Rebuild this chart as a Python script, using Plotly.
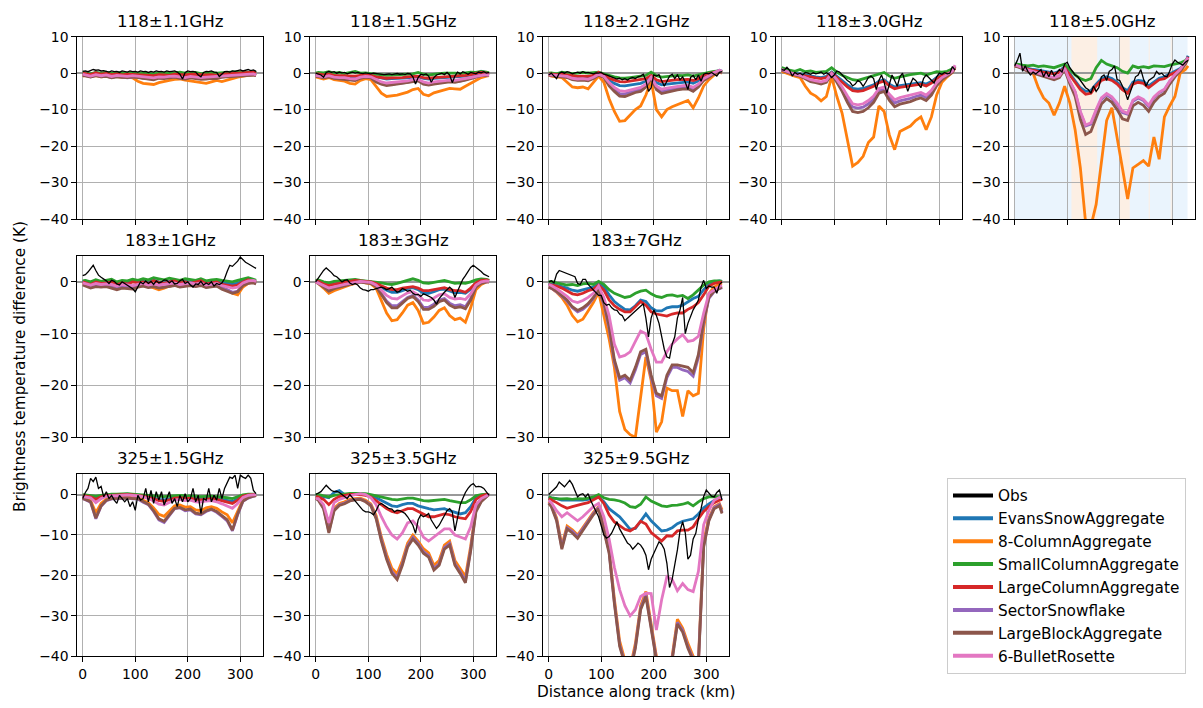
import plotly.graph_objects as go

# ---------------- data ----------------
x_model = [0, 5, 15, 25, 35, 45, 55, 65, 75, 85, 95, 105, 115, 125, 135, 145, 155, 165, 175, 185,
           195, 205, 215, 225, 235, 245, 255, 265, 275, 285, 295, 305, 315, 325, 330]
x_obs = list(range(0, 335, 5))

series_names = ["Obs", "EvansSnowAggregate", "8-ColumnAggregate", "SmallColumnAggregate",
                "LargeColumnAggregate", "SectorSnowflake", "LargeBlockAggregate", "6-BulletRosette"]
series_colors = ["#000000", "#1f77b4", "#ff7f0e", "#2ca02c", "#d62728", "#9467bd", "#8c564b", "#e377c2"]

panel_titles = ["118±1.1GHz", "118±1.5GHz", "118±2.1GHz", "118±3.0GHz", "118±5.0GHz",
                "183±1GHz", "183±3GHz", "183±7GHz", "325±1.5GHz", "325±3.5GHz", "325±9.5GHz"]

# ---- 118±1.1GHz ----
obs_118_11 = [0.5,0.6,0.4,0.7,1.0,0.8,0.9,0.6,0.7,0.5, 0.3,0.6,0.4,0.5,0.2,0.6,0.5,0.3,0.6,0.4,
              0.5,0.3,0.6,0.4,0.5,0.2,0.5,0.3,0.6,0.4, 0.5,0.3,0.6,0.4,0.5,0.6,0.3,-0.3,-1.6,0.2,
              0.6,0.4,0.5,0.3,-0.5,-1.0,0.2,0.5,0.4,0.6, 0.3,0.2,-0.9,-0.3,0.4,0.5,0.3,0.6,0.5,0.7,
              0.9,0.6,0.8,1.0,0.7,0.9,0.5]
evans_118_11 = [0.2,0.0,-0.3,0.1,-0.2,0.0,-0.3,-0.1,-0.4,-0.2, -0.3,-0.1,-0.5,-0.4,-0.6,-0.3,-0.5,-0.4,-0.2,-0.3,
                -0.5,-0.4,-0.2,-0.6,-0.4,-0.3,-0.5,-0.2,-0.3,-0.1, 0.2,0.0,0.3,0.4,0.1]
col8_118_11 = [-0.8,-0.6,-0.9,-0.7,-1.0,-0.9,-1.1,-0.9,-1.2,-1.0, -1.3,-2.2,-2.8,-3.0,-3.1,-2.6,-2.4,-2.0,-1.7,-1.6,
               -1.9,-2.1,-2.3,-2.6,-2.8,-2.4,-2.0,-2.3,-1.8,-1.5, -1.1,-0.8,-0.6,-0.5,-0.7]
small_118_11 = [0.3,0.1,-0.2,0.2,0.0,0.3,-0.1,0.2,0.1,0.0, 0.2,-0.1,0.1,0.0,-0.2,0.1,0.0,0.2,0.1,0.3,
                0.0,0.1,0.2,-0.1,0.1,0.2,0.0,0.1,0.3,0.2, 0.4,0.1,0.3,0.5,0.2]
large_118_11 = [0.0,-0.2,-0.4,0.1,-0.3,-0.1,-0.4,-0.2,-0.5,-0.3, -0.4,-0.3,-0.6,-0.5,-0.7,-0.4,-0.5,-0.6,-0.3,-0.4,
                -0.5,-0.3,-0.4,-0.6,-0.5,-0.4,-0.6,-0.3,-0.2,-0.3, 0.0,-0.1,0.2,0.3,0.0]
sector_118_11 = [-0.5,-0.7,-1.0,-0.6,-0.9,-0.8,-1.2,-0.9,-1.0,-1.3, -1.1,-1.0,-1.4,-1.5,-1.6,-1.2,-1.3,-1.1,-1.0,-1.2,
                 -1.4,-1.1,-1.3,-1.5,-1.4,-1.2,-1.3,-1.0,-0.9,-0.8, -0.6,-0.7,-0.5,-0.4,-0.6]
block_118_11 = [-0.6,-0.8,-1.1,-0.7,-1.0,-0.9,-1.3,-1.0,-1.1,-1.2, -1.0,-1.2,-1.6,-1.7,-1.8,-1.4,-1.5,-1.3,-1.1,-1.4,
                -1.6,-1.3,-1.5,-1.7,-1.6,-1.4,-1.5,-1.1,-1.0,-0.9, -0.7,-0.8,-0.6,-0.5,-0.7]
bullet_118_11 = [-0.3,-0.5,-0.8,-0.4,-0.7,-0.5,-0.9,-0.6,-0.8,-0.9, -0.7,-0.8,-1.1,-1.2,-1.3,-1.0,-1.1,-0.9,-0.8,-1.0,
                 -1.2,-0.9,-1.1,-1.2,-1.1,-1.0,-1.0,-0.8,-0.7,-0.6, -0.4,-0.5,-0.3,-0.2,-0.5]

# ---- 118±1.5GHz ----
obs_118_15 = [0.0,-0.3,-0.5,-1.1,0.2,0.5,0.2,0.4,0.0,0.3, 0.1,0.2,-0.2,0.1,0.3,0.0,0.2,0.0,-0.1,0.1,
              0.0,-0.2,0.0,-0.1,-0.3,-0.2,-0.4,-0.3,-0.2,-0.4, -0.3,-0.1,-0.3,-0.2,-0.4,-0.1,-0.2,-1.0,-3.0,-1.2,
              -0.3,-0.5,-0.2,-0.8,-2.5,-1.2,-0.5,-0.3,0.0,-0.4, 0.2,-0.5,-2.6,-0.8,0.3,-0.2,0.4,0.1,-0.3,0.2,
              0.0,-0.2,0.3,0.1,0.4,0.0,0.2]
evans_118_15 = [-0.5,-0.3,-0.6,-0.4,-0.7,-0.8,-0.7,-0.9,-1.0,-0.8, -0.6,-0.7,-1.0,-1.4,-1.6,-1.5,-1.5,-1.4,-1.3,-1.1,
                -1.0,-1.4,-1.6,-1.4,-1.3,-1.2,-1.1,-1.0,-1.1,-0.8, -0.5,-0.4,0.5,0.0,-0.2]
col8_118_15 = [-1.0,-1.2,-1.6,-1.2,-1.8,-2.0,-2.2,-2.8,-3.0,-2.0, -1.5,-1.8,-3.5,-5.5,-6.4,-6.3,-6.0,-5.6,-5.2,-4.5,
               -4.2,-5.8,-6.2,-5.4,-5.0,-4.6,-4.2,-4.3,-4.4,-3.6, -2.8,-2.0,-1.2,-0.8,-0.7]
small_118_15 = [0.0,0.2,0.1,0.4,0.0,0.2,-0.1,0.1,0.5,0.0, 0.1,-0.1,-0.3,-0.5,-0.6,-0.5,-0.4,-0.5,-0.3,-0.2,
                0.2,-0.3,-0.5,-0.2,-0.1,0.0,0.1,0.0,-0.1,0.1, 0.3,0.2,0.5,0.3,0.1]
large_118_15 = [-0.3,-0.2,-0.5,-0.3,-0.6,-0.7,-0.6,-0.8,-0.8,-0.6, -0.5,-0.6,-1.0,-1.2,-1.4,-1.3,-1.3,-1.2,-1.0,-0.9,
                -0.8,-1.2,-1.4,-1.2,-1.1,-1.0,-0.9,-0.8,-0.9,-0.6, -0.4,-0.2,0.2,0.0,-0.2]
sector_118_15 = [-0.8,-0.8,-1.2,-0.9,-1.3,-1.4,-1.5,-1.8,-1.9,-1.3, -1.0,-1.2,-2.2,-2.9,-3.2,-3.0,-2.9,-2.7,-2.5,-2.1,
                 -2.0,-2.8,-3.1,-2.8,-2.6,-2.4,-2.2,-2.3,-2.2,-1.8, -1.4,-1.0,-0.6,-0.5,-0.6]
block_118_15 = [-0.9,-0.9,-1.3,-1.0,-1.4,-1.5,-1.6,-1.9,-2.0,-1.4, -1.1,-1.3,-2.4,-3.0,-3.4,-3.2,-3.0,-2.9,-2.7,-2.3,
                -2.1,-3.0,-3.3,-3.0,-2.8,-2.6,-2.4,-2.5,-2.3,-1.9, -1.5,-1.1,-0.7,-0.6,-0.7]
bullet_118_15 = [-0.6,-0.7,-1.0,-0.7,-1.1,-1.2,-1.2,-1.5,-1.6,-1.1, -0.9,-1.0,-1.8,-2.4,-2.7,-2.6,-2.5,-2.3,-2.1,-1.8,
                 -1.7,-2.4,-2.7,-2.4,-2.2,-2.0,-1.9,-2.0,-1.8,-1.5, -1.2,-0.9,-0.6,-0.4,-0.6]

# ---- 118±2.1GHz ----
obs_118_21 = [-0.5,0.0,-0.8,-1.5,0.0,0.3,0.0,0.4,0.2,-0.2, 0.1,0.3,0.0,0.4,0.1,0.2,0.0,-0.2,0.1,0.0,
              0.2,-0.3,-0.5,-0.8,-1.0,-1.2,-1.6,-1.4,-1.8,-1.5, -1.9,-1.4,-1.2,-1.5,-1.0,-0.8,-0.3,-2.0,-5.0,-4.0,
              -0.5,-0.8,-0.4,-2.0,-3.6,-2.2,-0.8,-0.3,-1.5,-0.5, -1.8,-1.0,-2.5,-4.5,-1.2,-0.6,-1.8,-0.5,-2.2,-0.3,
              0.0,-0.2,0.2,-0.3,-0.8,0.2,0.4]
evans_118_21 = [-0.3,-0.4,-0.5,-0.4,-0.7,-1.0,-1.2,-1.1,-1.2,-0.8, -0.2,-0.7,-2.0,-2.8,-3.4,-3.5,-3.2,-3.0,-2.8,-2.2,
                -0.8,-2.6,-3.2,-3.0,-2.8,-2.6,-2.5,-2.4,-2.8,-2.1, -1.0,-0.4,0.3,0.8,0.5]
col8_118_21 = [-0.5,-0.8,-1.0,-1.2,-2.5,-3.8,-4.0,-3.8,-4.3,-2.5, -0.8,-2.5,-7.0,-10.5,-13.2,-13.0,-11.5,-10.0,-9.0,-6.0,
               -2.0,-10.0,-12.0,-10.0,-9.2,-8.6,-8.0,-7.5,-9.5,-6.8, -3.5,-1.8,-0.5,0.3,0.0]
small_118_21 = [0.0,0.1,-0.2,0.3,0.1,-0.1,0.0,0.2,0.0,0.1, 0.3,-0.2,-0.7,-1.0,-1.3,-1.4,-1.2,-1.0,-0.9,-0.6,
                0.3,-0.7,-1.1,-0.9,-0.8,-0.6,-0.7,-0.5,-0.8,-0.4, 0.0,0.2,0.5,0.6,0.3]
large_118_21 = [-0.2,-0.3,-0.4,-0.3,-0.5,-0.8,-0.9,-0.8,-0.9,-0.6, 0.2,-0.5,-1.4,-1.9,-2.3,-2.4,-2.2,-2.0,-1.9,-1.5,
                -0.6,-1.8,-2.3,-2.1,-2.0,-1.8,-1.8,-1.7,-2.0,-1.5, -0.6,-0.2,0.3,0.6,0.4]
sector_118_21 = [-0.5,-0.6,-0.7,-0.8,-1.0,-1.6,-1.8,-1.7,-1.9,-1.3, -0.4,-1.0,-3.0,-4.5,-5.6,-5.7,-5.2,-4.8,-4.5,-3.4,
                 -1.3,-4.0,-5.0,-4.7,-4.4,-4.1,-3.9,-3.8,-4.5,-3.4, -1.8,-0.9,-0.1,0.4,0.2]
block_118_21 = [-0.5,-0.7,-0.8,-0.9,-1.2,-1.8,-2.0,-1.9,-2.1,-1.5, -0.5,-1.2,-3.5,-5.0,-6.3,-6.4,-5.8,-5.3,-5.0,-3.8,
                -1.5,-4.5,-5.6,-5.2,-4.9,-4.6,-4.4,-4.3,-5.0,-3.8, -2.0,-1.0,-0.2,0.3,0.2]
bullet_118_21 = [-0.4,-0.5,-0.6,-0.7,-0.9,-1.4,-1.6,-1.5,-1.7,-1.1, -0.3,-0.9,-2.6,-3.9,-4.8,-5.0,-4.6,-4.2,-3.9,-3.0,
                 -1.1,-3.5,-4.4,-4.1,-3.8,-3.5,-3.4,-3.3,-3.9,-3.0, -1.5,-0.7,0.2,0.8,0.5]

# ---- 118±3.0GHz ----
obs_118_30 = [1.0,0.8,1.6,0.8,-0.8,0.2,-0.3,0.0,-0.5,0.2, 0.0,-0.3,0.1,-0.2,0.0,0.3,-0.3,0.1,-0.3,-1.2,
              -0.5,0.6,0.3,-0.5,-1.0,-2.0,-2.5,-3.5,-3.0,-2.0, -2.5,-3.6,-2.5,-1.2,-0.8,-1.5,-4.5,-2.0,-0.5,-2.5,
              -5.5,-3.0,-0.5,-2.0,-3.6,-1.0,0.0,-2.5,-5.0,-3.0, -1.4,-2.0,-3.0,-4.0,-1.5,-0.5,-1.2,-2.0,-2.7,-1.0,
              0.0,-0.3,0.2,-0.2,0.0,1.8,0.8]
evans_118_30 = [1.2,0.8,0.3,0.0,-0.2,-0.6,-0.9,-1.0,-1.2,-0.9, 0.3,-0.9,-2.0,-3.2,-4.2,-4.4,-4.2,-3.8,-3.2,-2.2,
                -1.8,-3.0,-3.8,-3.4,-3.2,-3.0,-2.8,-2.6,-3.0,-2.3, -1.2,-0.4,0.0,0.6,1.5]
col8_118_30 = [0.5,0.2,-0.3,-0.8,-1.2,-3.6,-5.5,-6.3,-7.6,-6.4, -1.0,-6.4,-11.0,-18.0,-25.5,-24.5,-22.8,-19.0,-17.5,-9.0,
               -10.5,-17.0,-21.0,-16.0,-15.3,-14.5,-13.0,-12.0,-15.5,-12.0, -6.0,-2.5,-1.0,0.2,1.5]
small_118_30 = [1.5,1.2,0.8,0.5,1.0,0.4,0.6,0.2,0.3,0.5, 1.5,0.3,-0.6,-1.2,-1.8,-2.0,-1.6,-1.2,-0.8,-0.3,
                0.2,-0.8,-1.4,-1.0,-0.6,-0.4,-0.2,0.0,-0.5,0.0, 0.4,0.3,0.5,1.2,1.5]
large_118_30 = [1.0,0.6,0.1,-0.2,-0.4,-0.8,-1.2,-1.3,-1.5,-1.2, 0.1,-1.2,-2.5,-3.8,-4.8,-5.0,-4.8,-4.3,-3.6,-2.6,
                -2.2,-3.5,-4.3,-3.9,-3.7,-3.5,-3.2,-3.0,-3.5,-2.7, -1.5,-0.6,-0.2,0.5,1.4]
sector_118_30 = [0.9,0.6,0.1,-0.4,-0.7,-1.4,-2.0,-2.3,-2.7,-2.2, -0.2,-2.1,-4.3,-7.0,-9.3,-9.6,-9.3,-8.4,-7.1,-4.8,
                 -4.4,-6.6,-8.2,-7.6,-7.3,-6.9,-6.4,-6.0,-6.7,-5.3, -3.0,-1.5,-0.6,0.4,1.9]
block_118_30 = [0.8,0.5,0.0,-0.5,-0.8,-1.6,-2.3,-2.6,-3.0,-2.5, -0.3,-2.5,-5.0,-8.0,-10.5,-10.8,-10.5,-9.5,-8.0,-5.5,
                -5.0,-7.5,-9.2,-8.5,-8.2,-7.8,-7.2,-6.8,-7.5,-6.0, -3.5,-1.8,-0.8,0.2,1.8]
bullet_118_30 = [1.0,0.7,0.2,-0.3,-0.6,-1.2,-1.8,-2.1,-2.4,-2.0, -0.1,-1.8,-3.8,-6.2,-8.4,-8.7,-8.4,-7.5,-6.3,-4.2,
                 -3.8,-5.8,-7.3,-6.7,-6.4,-6.0,-5.6,-5.3,-6.0,-4.7, -2.6,-1.2,-0.4,0.6,2.2]

# ---- 118±5.0GHz ----
obs_118_50 = [2.0,3.5,5.5,0.5,2.0,0.5,-0.5,0.3,-0.2,0.5, 1.0,-1.0,0.5,-1.0,0.8,-0.8,0.0,1.0,0.3,2.5,
              3.0,1.5,0.5,-0.5,-1.0,-2.0,-3.0,-4.0,-4.5,-5.5, -3.5,-5.0,-4.0,-1.0,-0.5,-2.0,0.5,1.0,2.0,-1.8,
              -2.0,-3.6,-5.0,-7.3,-5.0,-2.7,-1.0,-0.5,1.0,-1.5, -3.6,-2.0,-1.4,-1.0,0.5,-0.3,0.0,-0.8,-1.0,0.5,
              2.5,3.6,3.0,2.7,2.2,3.0,3.5]
evans_118_50 = [2.2,2.0,1.8,1.3,1.0,0.8,0.5,0.3,0.0,0.5, 1.8,-0.2,-2.0,-4.0,-5.0,-4.8,-3.0,-1.5,-1.0,-1.5,
                -2.5,-4.0,-4.8,-2.5,-2.0,-2.2,-3.5,-2.5,-1.4,-1.0, -0.2,0.5,1.3,2.8,4.8]
col8_118_50 = [2.0,2.0,1.5,1.0,0.0,-4.0,-6.8,-8.2,-11.5,-8.2, -3.6,-8.2,-15.5,-26.0,-41.0,-42.0,-36.0,-25.0,-13.0,-9.5,
               -17.3,-26.0,-34.5,-26.0,-25.0,-24.0,-25.5,-17.5,-23.6,-12.0, -9.0,-6.4,0.0,1.0,2.0]
small_118_50 = [2.5,2.5,2.2,2.0,2.2,1.8,2.0,1.8,1.5,2.0, 2.5,1.0,-0.5,-1.5,-2.0,-1.5,1.5,3.5,2.5,2.0,
                1.5,0.5,0.0,2.0,1.5,1.8,1.5,2.0,2.0,1.8, 2.2,2.5,2.8,3.5,4.0]
large_118_50 = [2.0,1.8,1.5,1.0,0.8,0.5,0.3,0.0,-0.2,0.2, 1.5,-0.5,-2.5,-4.5,-5.8,-5.5,-3.5,-2.0,-1.5,-2.0,
                -3.0,-4.5,-5.5,-3.0,-2.5,-2.8,-4.0,-3.0,-1.8,-1.5, -0.5,0.2,1.0,2.5,4.5]
sector_118_50 = [2.2,2.0,1.4,0.8,0.3,-0.2,-0.6,-1.0,-1.3,-0.8, 1.3,-2.4,-5.2,-10.8,-14.5,-14.0,-10.4,-7.2,-5.9,-6.9,
                 -8.6,-10.8,-11.3,-7.7,-6.8,-7.5,-9.1,-6.8,-5.4,-4.6, -2.3,-0.5,0.9,2.8,4.2]
block_118_50 = [2.0,1.8,1.2,0.5,0.0,-0.5,-1.0,-1.5,-1.8,-1.2, 1.0,-3.0,-6.4,-12.7,-16.8,-16.0,-12.0,-8.5,-7.0,-8.0,
                -10.0,-12.5,-13.0,-9.0,-8.0,-8.8,-10.5,-8.0,-6.4,-5.5, -3.0,-1.0,0.5,2.5,4.0]
bullet_118_50 = [2.3,2.1,1.5,0.9,0.4,-0.1,-0.5,-0.9,-1.2,-0.7, 1.4,-2.2,-5.0,-10.5,-14.2,-13.6,-10.0,-6.8,-5.6,-6.5,
                 -8.2,-10.4,-11.0,-7.4,-6.5,-7.2,-8.8,-6.5,-5.2,-4.4, -2.2,-0.4,1.0,3.0,4.3]
shade_blue_118_50 = [(-1, 329)]
shade_orange_118_50 = [(108, 157), (200, 219), (255, 257), (297, 299)]

# ---- 183±1GHz ----
obs_183_1 = [1.2,1.4,1.9,2.5,3.2,2.2,1.3,0.9,0.6,0.2, -0.3,0.3,0.1,-0.4,-0.6,0.0,-0.3,-0.6,-1.0,-1.3,
             -1.9,-1.0,0.0,-0.4,0.2,-0.3,0.1,-0.5,0.2,-0.2, 0.0,0.4,0.3,-0.2,0.2,-0.4,-0.3,0.2,0.5,-0.3,
             0.0,-0.6,-1.0,-0.4,-0.5,0.1,-0.6,-0.2,-0.5,0.0, -0.8,-0.3,-0.5,-0.2,0.6,2.0,3.2,3.0,3.5,4.0,
             4.8,4.2,3.8,3.5,3.2,2.8,2.6]
evans_183_1 = [0.0,0.2,-0.3,0.3,-0.2,0.0,0.2,-0.3,0.1,-0.2, 0.3,0.0,0.2,-0.1,0.3,0.0,-0.2,0.1,0.3,0.0,
               0.2,-0.1,0.0,0.3,-0.2,0.1,0.2,-0.3,-0.2,-0.5, -0.3,0.2,0.5,0.3,0.1]
col8_183_1 = [-0.3,-0.5,-0.8,-0.5,-0.8,-0.5,-0.7,-1.0,-0.6,-0.8, -1.0,-0.7,-0.5,-0.8,-1.2,-1.5,-1.2,-0.8,-0.6,-0.9,
              -0.5,-0.3,-0.6,-0.4,-0.8,-0.6,-0.5,-1.0,-1.6,-2.2, -2.5,-1.0,-0.3,0.0,-0.2]
small_183_1 = [0.2,0.3,0.0,0.4,0.1,0.3,0.5,0.0,0.3,0.2, 0.5,0.3,0.6,0.4,0.8,0.6,0.4,0.7,0.5,0.3,
               0.6,0.4,0.3,0.6,0.2,0.4,0.5,0.3,0.2,0.0, 0.3,0.6,0.8,0.5,0.3]
large_183_1 = [0.0,-0.2,-0.5,0.0,-0.3,-0.2,0.0,-0.5,-0.2,-0.4, 0.0,-0.2,0.0,-0.3,0.2,-0.1,-0.3,0.0,0.2,-0.2,
               0.0,-0.3,-0.1,0.2,-0.4,-0.2,0.0,-0.5,-0.6,-0.8, -0.6,0.0,0.4,0.2,0.0]
sector_183_1 = [-0.5,-0.6,-1.0,-0.7,-0.9,-0.8,-1.0,-1.3,-0.9,-1.0, -1.2,-0.9,-0.7,-1.0,-0.8,-1.1,-1.0,-0.8,-0.6,-0.9,
                -0.7,-0.6,-0.8,-0.6,-1.0,-0.8,-0.7,-1.2,-1.5,-2.0, -1.8,-0.6,-0.2,-0.1,-0.3]
block_183_1 = [-0.6,-0.8,-1.2,-0.9,-1.0,-0.9,-1.2,-1.5,-1.2,-1.3, -1.4,-1.0,-0.8,-1.1,-0.9,-1.2,-1.0,-0.9,-0.7,-1.0,
               -0.8,-0.7,-0.9,-0.7,-1.1,-0.9,-0.8,-1.4,-1.8,-2.2, -1.9,-0.7,-0.3,-0.2,-0.4]
bullet_183_1 = [-0.2,-0.3,-0.6,-0.3,-0.5,-0.4,-0.5,-0.8,-0.5,-0.6, -0.7,-0.5,-0.3,-0.6,-0.4,-0.6,-0.5,-0.4,-0.2,-0.5,
                -0.3,-0.2,-0.4,-0.2,-0.6,-0.4,-0.3,-0.7,-0.9,-1.2, -1.0,-0.2,0.2,0.3,0.1]

# ---- 183±3GHz ----
obs_183_3 = [0.0,0.8,1.5,2.2,2.7,2.3,1.8,1.2,1.0,0.5, 0.0,0.3,0.4,-0.2,-0.5,-0.3,-0.6,-1.2,-1.5,-1.6,
             -1.8,-1.5,-1.5,-1.3,-1.2,-1.0,-1.2,-1.5,-1.3,-1.0, -1.5,-2.0,-1.8,-1.3,-1.5,-1.8,-1.6,-2.2,-2.5,-2.4,
             -2.8,-2.3,-2.5,-2.8,-3.0,-3.5,-4.3,-3.2,-2.5,-2.0, -1.5,-1.0,-1.5,-3.0,-1.8,-0.5,0.5,1.2,2.0,2.8,
             3.2,2.8,2.5,2.0,1.5,1.2,1.0]
evans_183_3 = [0.3,0.2,-0.3,-0.6,-0.4,-0.3,-0.2,0.0,0.2,0.2, 0.0,0.0,-0.4,-1.0,-1.6,-2.0,-2.0,-1.7,-1.3,-1.1,
               -1.5,-2.2,-2.2,-1.9,-1.5,-1.4,-1.8,-2.1,-2.0,-2.2, -1.4,-0.3,0.2,0.3,0.2]
col8_183_3 = [0.0,-0.3,-1.2,-2.2,-1.7,-1.3,-1.0,-0.6,-0.3,0.0, -0.2,-0.4,-1.2,-3.5,-6.0,-7.5,-7.3,-6.0,-4.5,-4.0,
              -5.5,-8.0,-7.8,-6.8,-5.5,-5.0,-6.5,-7.3,-7.0,-7.8, -5.0,-1.5,-0.5,0.0,0.0]
small_183_3 = [0.3,0.4,0.0,-0.2,0.1,0.2,0.3,0.4,0.5,0.3, 0.2,0.1,0.0,-0.2,-0.4,-0.5,-0.3,0.0,0.4,0.6,
               0.3,-0.2,-0.3,-0.1,0.2,0.3,0.0,-0.3,-0.2,-0.3, 0.0,0.4,0.6,0.5,0.3]
large_183_3 = [0.2,0.1,-0.4,-0.7,-0.5,-0.3,-0.2,0.0,0.3,0.2, 0.1,0.0,-0.3,-0.8,-1.2,-1.5,-1.5,-1.2,-1.0,-0.9,
               -1.2,-1.7,-1.7,-1.5,-1.2,-1.1,-1.5,-1.7,-1.7,-2.0, -1.2,-0.2,0.3,0.4,0.2]
sector_183_3 = [0.0,-0.2,-0.9,-1.6,-1.2,-0.9,-0.7,-0.4,-0.2,0.0, -0.1,-0.2,-0.8,-2.2,-3.7,-4.6,-4.6,-3.8,-3.0,-2.6,
                -3.5,-4.9,-4.9,-4.3,-3.5,-3.2,-4.1,-4.6,-4.4,-4.8, -3.2,-0.9,-0.2,0.0,0.0]
block_183_3 = [0.0,-0.3,-1.0,-1.8,-1.3,-1.0,-0.8,-0.5,-0.2,0.0, -0.2,-0.3,-0.9,-2.4,-4.0,-5.0,-5.0,-4.1,-3.2,-2.8,
               -3.8,-5.3,-5.3,-4.7,-3.8,-3.5,-4.5,-5.0,-4.8,-5.2, -3.5,-1.0,-0.3,0.0,0.0]
bullet_183_3 = [0.0,-0.2,-0.7,-1.2,-0.9,-0.7,-0.5,-0.3,-0.1,0.1, 0.0,-0.1,-0.6,-1.6,-2.6,-3.2,-3.3,-2.7,-2.1,-1.9,
                -2.5,-3.5,-3.6,-3.1,-2.5,-2.3,-3.0,-3.3,-3.2,-3.4, -2.3,-0.6,0.0,0.2,0.1]

# ---- 183±7GHz ----
obs_183_7 = [0.0,0.2,-0.2,1.5,2.2,2.0,1.8,1.6,1.4,1.2, 1.0,-0.3,-0.5,0.5,0.5,-0.5,-1.0,-1.5,-2.0,-2.6,
             -2.6,-4.0,-4.5,-4.3,-5.0,-5.4,-5.5,-6.2,-6.5,-7.5, -7.0,-6.5,-6.0,-5.5,-5.0,-4.5,-4.2,-7.0,-10.6,-7.0,
             -5.4,-6.5,-8.0,-10.5,-13.0,-14.5,-14.7,-12.0,-10.6,-7.0, -5.4,-3.0,-10.0,-8.0,-6.7,-5.4,-4.5,-3.5,-1.0,0.3,
             -1.3,-0.8,-1.0,-1.0,-2.2,-0.5,0.0]
evans_183_7 = [-0.3,-0.4,-0.6,-0.9,-1.2,-1.6,-1.8,-1.5,-1.2,-1.0, -0.3,-1.0,-2.5,-3.8,-4.6,-5.3,-5.4,-4.6,-3.5,-3.8,
               -5.0,-5.6,-5.6,-5.0,-4.8,-4.8,-4.5,-3.8,-3.2,-2.8, -1.5,-0.5,0.0,0.2,0.1]
col8_183_7 = [-1.0,-1.2,-2.0,-3.0,-4.5,-6.5,-7.7,-7.2,-5.6,-4.0, -2.0,-6.5,-11.0,-16.5,-25.0,-28.5,-29.5,-30.0,-22.0,-14.5,
              -19.0,-29.0,-27.0,-20.5,-21.0,-21.0,-26.0,-21.0,-22.0,-21.5, -9.0,-2.2,-1.0,-0.4,-0.3]
small_183_7 = [0.0,0.1,-0.2,-0.4,-0.6,-0.5,-0.7,-0.4,-0.3,-0.5, 0.1,-0.5,-1.5,-2.2,-2.6,-3.0,-2.8,-2.2,-1.8,-1.6,
               -2.3,-2.8,-3.0,-2.6,-2.5,-2.8,-2.6,-3.2,-2.5,-1.5, -0.6,0.0,0.2,0.2,0.1]
large_183_7 = [-0.5,-0.6,-0.8,-1.2,-1.8,-2.3,-2.5,-2.2,-1.7,-1.4, -0.6,-1.6,-3.5,-4.6,-5.3,-5.8,-5.8,-4.8,-3.8,-4.5,
               -5.8,-6.2,-6.4,-6.6,-6.2,-6.0,-6.0,-5.3,-4.8,-4.0, -2.5,-0.8,-0.3,0.0,0.0]
sector_183_7 = [-1.0,-1.2,-1.9,-2.8,-3.7,-5.0,-5.8,-5.3,-4.4,-3.2, -1.6,-4.3,-9.0,-15.5,-19.0,-18.5,-19.5,-17.0,-14.0,-13.5,
                -18.5,-22.0,-22.5,-18.5,-16.5,-16.5,-17.0,-17.3,-18.2,-14.6, -7.8,-3.2,-1.9,-1.3,-1.1]
block_183_7 = [-1.0,-1.2,-1.8,-2.6,-3.5,-4.8,-5.5,-5.0,-4.2,-3.0, -1.5,-4.0,-8.5,-15.0,-18.5,-18.0,-19.0,-16.5,-13.5,-13.0,
               -18.0,-21.5,-22.0,-18.0,-16.0,-16.0,-16.3,-16.5,-17.5,-14.0, -7.4,-3.0,-1.8,-1.2,-1.0]
bullet_183_7 = [-0.5,-0.7,-1.3,-2.0,-2.8,-3.7,-4.0,-3.6,-3.0,-2.2, -0.8,-3.0,-6.5,-12.0,-14.5,-14.2,-13.5,-11.5,-9.5,-10.0,
                -13.0,-15.5,-15.5,-13.5,-12.0,-11.0,-10.2,-11.5,-11.3,-10.5, -6.0,-2.2,-1.5,-0.9,-0.7]

# ---- 325±1.5GHz ----
obs_325_15 = [-1.0,0.5,1.5,4.0,3.2,4.3,1.5,2.0,-0.6,0.7, -1.0,-0.2,-1.4,-2.2,-0.2,-1.0,-1.8,-1.0,-3.0,-1.8,
              -3.9,-0.2,-1.4,-1.0,1.5,-1.8,1.0,-2.2,0.7,-1.4, 0.7,-2.6,-1.0,0.7,-2.2,-1.0,-3.0,-0.2,-1.8,0.2,
              -1.8,-1.0,1.5,-1.8,-0.2,-4.7,-1.0,-1.4,1.5,-1.8, -0.2,-1.4,1.5,-1.0,1.5,3.1,4.3,4.0,4.8,1.5,
              4.8,4.3,4.0,4.8,4.0,1.0,0.2]
evans_325_15 = [-0.2,-0.3,-0.5,-1.0,-0.5,-0.2,-0.1,0.0,0.0,0.1, 0.0,-0.1,-0.3,-0.5,-0.8,-1.2,-1.3,-1.0,-0.7,-0.6,
                -0.8,-0.7,-1.0,-1.1,-0.9,-0.8,-1.0,-1.2,-1.4,-1.7, -1.1,-0.3,0.0,0.1,0.0]
col8_325_15 = [-0.8,-1.0,-1.5,-4.5,-2.2,-1.1,-0.8,-0.8,-0.7,-0.6, -0.8,-0.8,-1.4,-2.0,-3.3,-4.9,-5.4,-4.1,-2.8,-2.6,
               -3.1,-3.0,-3.8,-4.0,-3.3,-3.0,-3.4,-4.3,-5.0,-7.0, -4.0,-1.3,-0.6,-0.3,-0.2]
small_325_15 = [0.0,-0.1,-0.2,-0.4,-0.2,0.0,0.1,0.1,0.2,0.2, 0.1,0.0,-0.1,-0.2,-0.3,-0.4,-0.5,-0.4,-0.3,-0.2,
                -0.3,-0.3,-0.4,-0.5,-0.4,-0.4,-0.5,-0.6,-0.8,-1.0, -0.6,-0.1,0.1,0.2,0.1]
large_325_15 = [-0.3,-0.4,-0.6,-1.2,-0.6,-0.3,-0.2,-0.2,-0.1,0.0, -0.1,-0.2,-0.4,-0.7,-1.0,-1.5,-1.7,-1.3,-0.9,-0.8,
                -1.0,-0.9,-1.2,-1.3,-1.1,-1.0,-1.2,-1.5,-1.8,-2.2, -1.4,-0.4,-0.1,0.0,0.0]
sector_325_15 = [-1.0,-1.3,-1.9,-6.0,-2.9,-1.5,-1.1,-1.1,-1.0,-0.9, -1.1,-1.1,-1.9,-2.5,-4.2,-6.3,-6.9,-5.2,-3.5,-3.3,
                 -4.0,-3.8,-4.8,-5.0,-4.2,-3.7,-4.4,-5.4,-6.5,-9.0, -5.0,-1.7,-0.9,-0.4,-0.3]
block_325_15 = [-1.0,-1.2,-1.8,-5.8,-2.8,-1.4,-1.0,-1.0,-0.9,-0.8, -1.0,-1.0,-1.8,-2.4,-4.0,-6.0,-6.6,-5.0,-3.4,-3.2,
                -3.8,-3.6,-4.6,-4.8,-4.0,-3.6,-4.2,-5.2,-6.2,-8.8, -4.8,-1.6,-0.8,-0.4,-0.3]
bullet_325_15 = [-0.5,-0.6,-0.8,-2.0,-1.0,-0.5,-0.3,-0.3,-0.2,-0.1, -0.2,-0.3,-0.6,-1.0,-1.6,-2.4,-2.6,-2.0,-1.3,-1.2,
                 -1.5,-1.4,-1.8,-1.9,-1.6,-1.5,-1.8,-2.3,-2.8,-3.4, -2.2,-0.7,-0.2,0.0,0.0]

# ---- 325±3.5GHz ----
obs_325_35 = [0.0,0.3,0.7,1.5,2.3,1.6,1.0,0.7,0.8,0.5, 0.0,-0.5,-1.0,0.0,-0.8,-1.4,-2.2,-3.0,-3.9,-4.3,
              -4.3,-4.5,-5.0,-4.0,-2.6,-2.2,-2.6,-3.0,-3.5,-3.6, -4.3,-3.9,-4.0,-4.3,-4.7,-5.5,-6.5,-7.6,-9.6,-6.3,
              -5.0,-5.5,-5.2,-4.7,-6.3,-7.5,-8.4,-7.6,-6.3,-5.1, -4.0,-3.5,-4.3,-9.0,-5.5,-2.6,-1.0,0.5,1.5,2.3,
              2.7,1.9,2.0,1.9,1.5,0.5,-0.2]
evans_325_35 = [-0.3,-0.3,-0.5,-0.8,0.5,1.0,0.0,0.0,0.2,0.2, 0.0,-0.3,-0.8,-1.5,-2.2,-2.8,-3.0,-2.5,-2.2,-2.2,
                -2.8,-3.2,-3.5,-3.8,-3.6,-3.5,-4.0,-4.5,-4.8,-4.5, -3.0,-0.8,-0.2,0.1,0.0]
col8_325_35 = [-0.8,-1.1,-3.0,-8.5,-3.4,-2.2,-1.8,-1.2,-1.0,-0.9, -1.4,-2.3,-5.2,-10.5,-14.8,-18.2,-19.6,-16.3,-12.0,-10.0,
               -11.5,-13.4,-14.4,-17.5,-16.3,-12.5,-11.5,-16.3,-18.3,-20.3, -12.8,-3.6,-1.4,-0.3,0.0]
small_325_35 = [0.0,0.0,-0.3,-0.6,-0.2,0.0,0.2,0.3,0.3,0.3, 0.2,0.0,-0.3,-0.6,-0.9,-1.2,-1.3,-1.1,-0.9,-0.9,
                -1.2,-1.5,-1.6,-1.5,-1.3,-1.2,-1.5,-1.8,-2.0,-2.0, -1.3,-0.3,0.0,0.1,0.0]
large_325_35 = [-0.5,-0.6,-1.2,-2.5,-1.2,-0.5,-0.2,0.0,0.0,0.0, -0.2,-0.6,-1.5,-2.5,-3.5,-4.2,-4.5,-4.0,-3.5,-3.5,
                -4.2,-5.0,-5.5,-5.5,-5.2,-4.8,-5.0,-5.5,-5.8,-6.0, -4.2,-1.2,-0.4,0.0,0.0]
sector_325_35 = [-1.0,-1.3,-3.3,-9.1,-3.8,-2.5,-2.1,-1.5,-1.2,-1.1, -1.7,-2.6,-5.7,-11.1,-15.6,-19.1,-20.5,-17.1,-12.6,-10.6,
                 -12.1,-14.1,-15.1,-18.3,-17.1,-13.1,-12.1,-17.1,-19.1,-21.3, -13.6,-4.0,-1.6,-0.4,0.0]
block_325_35 = [-1.0,-1.4,-3.5,-9.5,-4.0,-2.7,-2.3,-1.6,-1.3,-1.2, -1.8,-2.8,-6.0,-11.5,-16.0,-19.5,-21.0,-17.5,-13.0,-11.0,
                -12.5,-14.5,-15.5,-18.7,-17.5,-13.5,-12.5,-17.5,-19.5,-21.8, -14.0,-4.3,-1.8,-0.5,0.0]
bullet_325_35 = [-1.0,-1.0,-2.5,-7.0,-2.0,-1.2,-0.8,-0.3,0.0,0.2, 0.0,-0.8,-2.5,-5.5,-8.0,-10.0,-11.0,-9.5,-7.0,-6.5,
                 -8.0,-10.5,-11.5,-10.5,-9.5,-8.5,-8.5,-10.0,-10.5,-11.0, -8.0,-2.5,-1.0,-0.3,0.0]

# ---- 325±9.5GHz ----
obs_325_95 = [0.0,0.7,1.2,1.9,3.1,2.5,1.9,2.7,3.5,2.5, 0.8,-0.6,0.0,0.2,-0.6,0.2,-1.5,-3.0,-4.2,-5.5,
              -7.5,-10.0,-10.8,-10.4,-9.5,-8.0,-6.7,-8.5,-9.8,-11.0, -12.0,-12.5,-13.5,-12.8,-12.0,-12.5,-13.5,-15.0,-18.6,-16.0,
              -14.5,-13.0,-11.7,-12.3,-13.5,-17.0,-23.0,-21.0,-17.5,-13.7, -9.0,-6.7,-9.5,-16.0,-15.0,-11.0,-9.6,-6.0,-3.5,-0.5,
              1.1,0.2,-0.4,-0.6,0.5,1.1,-1.4]
evans_325_95 = [-0.6,-0.8,-1.0,-1.4,-1.4,-1.3,-1.4,-1.4,-1.2,-0.8, -0.6,-1.8,-3.5,-4.5,-5.5,-7.0,-8.6,-8.4,-6.5,-4.8,
                -6.5,-7.8,-9.0,-8.8,-8.2,-7.2,-6.6,-6.3,-6.0,-4.8, -3.3,-2.3,-1.5,-1.0,-0.8]
col8_325_95 = [-1.8,-2.5,-5.8,-12.5,-7.8,-8.7,-10.0,-8.0,-6.3,-4.4, -3.0,-8.0,-13.5,-25.8,-36.2,-41.0,-43.0,-36.8,-27.5,-24.0,
               -32.0,-40.0,-44.0,-44.0,-40.0,-30.8,-33.0,-36.8,-40.0,-41.0, -11.5,-5.8,-3.0,-2.3,-3.8]
small_325_95 = [-0.6,-0.8,-1.0,-1.1,-1.0,-1.2,-1.0,-1.1,-0.9,-0.6, 0.0,-0.8,-1.2,-1.3,-1.6,-2.1,-3.0,-3.2,-2.4,-0.6,
                -1.6,-2.2,-2.8,-3.0,-2.7,-2.6,-2.4,-2.0,-2.8,-1.8, -1.0,-0.6,-0.5,-0.6,-0.7]
large_325_95 = [-1.0,-1.3,-2.0,-2.8,-3.4,-3.0,-2.6,-2.3,-2.0,-1.4, -0.6,-2.2,-5.0,-6.8,-7.8,-8.6,-9.0,-8.2,-6.6,-7.3,
                -9.4,-10.5,-11.5,-10.2,-10.3,-9.0,-8.8,-8.8,-8.0,-6.0, -4.2,-3.0,-2.0,-1.4,-1.2]
sector_325_95 = [-2.0,-2.7,-6.2,-13.1,-8.2,-9.1,-10.4,-8.4,-6.6,-4.7, -3.2,-8.4,-14.1,-26.6,-37.1,-41.6,-43.6,-37.6,-28.1,-24.8,
                 -32.6,-40.6,-44.6,-44.6,-40.6,-31.6,-33.6,-37.6,-40.6,-41.6, -12.6,-6.2,-3.2,-2.5,-4.4]
block_325_95 = [-2.2,-3.0,-6.5,-13.5,-8.5,-9.5,-10.8,-8.8,-7.0,-5.0, -3.5,-8.8,-14.5,-27.0,-37.5,-42.0,-44.0,-38.0,-28.5,-25.2,
                -33.0,-41.0,-45.0,-45.0,-41.0,-32.0,-34.0,-38.0,-41.0,-42.0, -13.0,-6.5,-3.5,-2.8,-4.7]
bullet_325_95 = [-1.4,-2.0,-4.0,-5.5,-4.5,-5.5,-6.5,-5.5,-4.2,-3.0, -2.2,-5.5,-11.0,-18.0,-23.5,-27.5,-30.0,-28.5,-25.2,-24.4,
                 -24.5,-33.5,-26.0,-20.3,-21.0,-23.8,-22.0,-23.5,-24.0,-19.0, -7.5,-3.9,-1.4,-0.7,-0.8]

# ---------------- table built from the arrays ----------------
panels = [
    (0, 0, [obs_118_11, evans_118_11, col8_118_11, small_118_11, large_118_11, sector_118_11, block_118_11, bullet_118_11]),
    (0, 1, [obs_118_15, evans_118_15, col8_118_15, small_118_15, large_118_15, sector_118_15, block_118_15, bullet_118_15]),
    (0, 2, [obs_118_21, evans_118_21, col8_118_21, small_118_21, large_118_21, sector_118_21, block_118_21, bullet_118_21]),
    (0, 3, [obs_118_30, evans_118_30, col8_118_30, small_118_30, large_118_30, sector_118_30, block_118_30, bullet_118_30]),
    (0, 4, [obs_118_50, evans_118_50, col8_118_50, small_118_50, large_118_50, sector_118_50, block_118_50, bullet_118_50]),
    (1, 0, [obs_183_1, evans_183_1, col8_183_1, small_183_1, large_183_1, sector_183_1, block_183_1, bullet_183_1]),
    (1, 1, [obs_183_3, evans_183_3, col8_183_3, small_183_3, large_183_3, sector_183_3, block_183_3, bullet_183_3]),
    (1, 2, [obs_183_7, evans_183_7, col8_183_7, small_183_7, large_183_7, sector_183_7, block_183_7, bullet_183_7]),
    (2, 0, [obs_325_15, evans_325_15, col8_325_15, small_325_15, large_325_15, sector_325_15, block_325_15, bullet_325_15]),
    (2, 1, [obs_325_35, evans_325_35, col8_325_35, small_325_35, large_325_35, sector_325_35, block_325_35, bullet_325_35]),
    (2, 2, [obs_325_95, evans_325_95, col8_325_95, small_325_95, large_325_95, sector_325_95, block_325_95, bullet_325_95]),
]

for ti, (_, _, ser) in enumerate(panels):
    assert len(ser[0]) == len(x_obs), (panel_titles[ti], 'obs', len(ser[0]))
    for j in range(1, 8):
        assert len(ser[j]) == len(x_model), (panel_titles[ti], series_names[j], len(ser[j]))

# ---------------- layout geometry ----------------
W, H = 1203, 708
FONT = "DejaVu Sans"
col_left = [77.3, 310.3, 543.3, 776.3, 1009.3]
panel_w = 186.0
row_top = [36.7, 256.0, 474.3]
row_bot = [219.0, 437.3, 656.3]
y_ranges = [[-40, 10], [-30, 5], [-40, 5]]
y_ticks = [[10, 0, -10, -20, -30, -40], [0, -10, -20, -30], [0, -10, -20, -30, -40]]
x_range = [-10.3, 343.8]
x_ticks = [0, 100, 200, 300]

fig = go.Figure()
layout = {}
annotations = []
shapes = []

for k, (r, c, ser) in enumerate(panels, start=1):
    xa = "x" if k == 1 else f"x{k}"
    ya = "y" if k == 1 else f"y{k}"
    for j in range(1, 8):
        fig.add_trace(go.Scatter(x=x_model, y=ser[j], mode="lines",
                                 line=dict(color=series_colors[j], width=2.8),
                                 xaxis=xa, yaxis=ya, showlegend=False, hoverinfo="skip"))
    fig.add_trace(go.Scatter(x=x_obs, y=ser[0], mode="lines",
                             line=dict(color="black", width=1.3),
                             xaxis=xa, yaxis=ya, showlegend=False, hoverinfo="skip"))

    left = col_left[c]
    top, bot = row_top[r], row_bot[r]
    axis_common = dict(showline=True, mirror=True, linecolor="black", linewidth=1,
                       ticks="outside", ticklen=5, tickwidth=1, tickcolor="black",
                       showgrid=True, gridcolor="#b0b0b0", gridwidth=0.8, automargin=False,
                       tickfont=dict(family=FONT, size=13.9, color="black"))
    layout["xaxis" if k == 1 else f"xaxis{k}"] = dict(
        domain=[left / W, (left + panel_w) / W], anchor=ya, range=x_range,
        tickvals=x_ticks, showticklabels=(r == 2), zeroline=False, **axis_common)
    layout["yaxis" if k == 1 else f"yaxis{k}"] = dict(
        domain=[1 - bot / H, 1 - top / H], anchor=xa, range=y_ranges[r],
        tickvals=y_ticks[r], zeroline=True, zerolinecolor="#999999", zerolinewidth=2,
        **axis_common)
    annotations.append(dict(text=panel_titles[k - 1], xref="paper", yref="paper",
                            x=(left + panel_w / 2) / W, y=1 - top / H,
                            xanchor="center", yanchor="bottom", yshift=4, showarrow=False,
                            font=dict(family=FONT, size=16.7, color="black")))

# shading in the 118±5.0GHz panel
for (a, b) in shade_blue_118_50:
    shapes.append(dict(type="rect", xref="x5", yref="y5 domain", x0=a, x1=b, y0=0, y1=1,
                       fillcolor="#eaf4fd", line=dict(width=0), layer="below"))
for (a, b) in shade_orange_118_50:
    shapes.append(dict(type="rect", xref="x5", yref="y5 domain", x0=a, x1=b, y0=0, y1=1,
                       fillcolor="#fcefe4", line=dict(width=0), layer="below"))

# legend entries (thick handles)
for j in range(8):
    fig.add_trace(go.Scatter(x=[None], y=[None], mode="lines", name=series_names[j],
                             line=dict(color=series_colors[j], width=4),
                             xaxis="x11", yaxis="y11", showlegend=True,
                             legendgroup=f"g{j}", hoverinfo="skip"))

annotations.append(dict(text="Distance along track (km)", xref="paper", yref="paper",
                        x=636 / W, y=1 - 692 / H, xanchor="center", yanchor="middle",
                        showarrow=False, font=dict(family=FONT, size=15.3, color="black")))
annotations.append(dict(text="Brightness temperature difference (K)", xref="paper", yref="paper",
                        x=20 / W, y=1 - 367 / H, xanchor="center", yanchor="middle", textangle=-90,
                        showarrow=False, font=dict(family=FONT, size=15.3, color="black")))

fig.update_layout(
    width=W, height=H, autosize=False,
    margin=dict(l=0, r=0, t=0, b=0, pad=0, autoexpand=False),
    paper_bgcolor="white", plot_bgcolor="white",
    font=dict(family=FONT, size=13.9, color="black"),
    annotations=annotations, shapes=shapes,
    legend=dict(x=947 / W, y=1 - 478 / H, xanchor="left", yanchor="top",
                bgcolor="white", bordercolor="#cccccc", borderwidth=1,
                font=dict(family=FONT, size=15.3, color="black"),
                itemwidth=40, traceorder="grouped", tracegroupgap=0),
    **layout,
)

fig.write_html("out.html")
